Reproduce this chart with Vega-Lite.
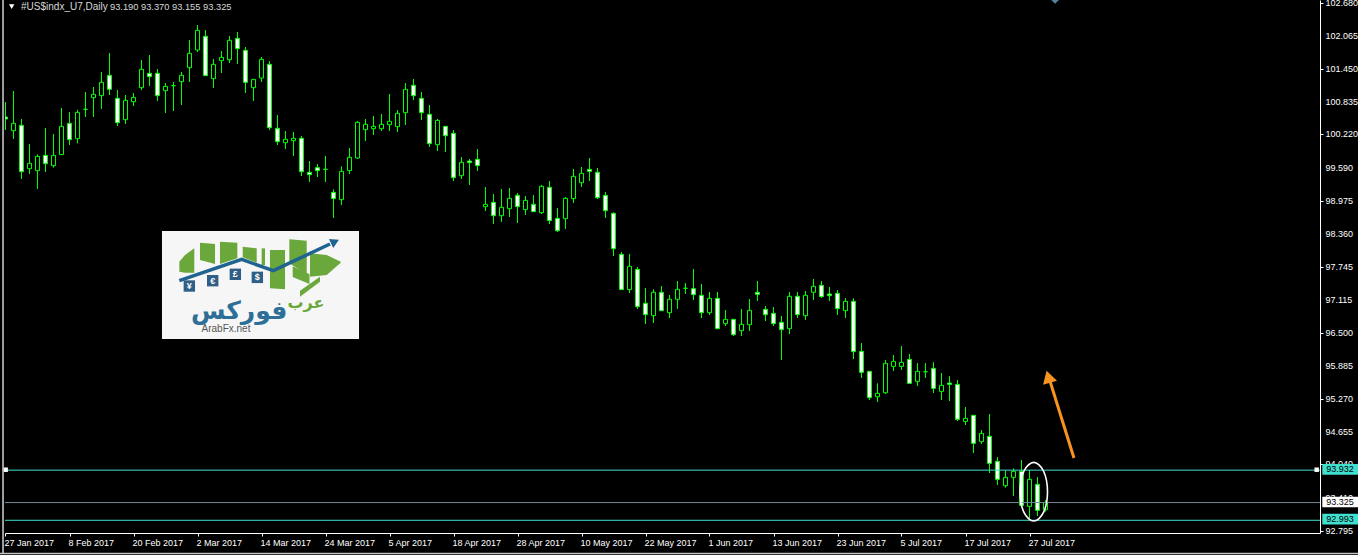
{"$schema":"https://vega.github.io/schema/vega-lite/v6.json","width":1315,"height":533,"autosize":"none","padding":{"left":5,"top":0,"right":38,"bottom":22},"background":"#000000","config":{"view":{"stroke":null},"font":"Liberation Sans","axis":{"grid":false,"title":null,"labelOverlap":false,"labelSeparation":0}},
"datasets":{"candles":[
{"bar":0,"open":100.545,"high":100.826,"low":100.302,"close":100.508},
{"bar":1,"open":100.289,"high":101.032,"low":100.133,"close":100.426},
{"bar":2,"open":100.389,"high":100.508,"low":99.384,"close":99.521},
{"bar":3,"open":99.577,"high":100.039,"low":99.478,"close":99.677},
{"bar":4,"open":99.54,"high":99.846,"low":99.197,"close":99.808},
{"bar":5,"open":99.827,"high":100.339,"low":99.515,"close":99.671},
{"bar":6,"open":99.634,"high":100.227,"low":99.596,"close":99.827},
{"bar":7,"open":99.84,"high":100.714,"low":99.835,"close":100.37},
{"bar":8,"open":100.426,"high":100.639,"low":100.021,"close":100.121},
{"bar":9,"open":100.139,"high":100.676,"low":100.052,"close":100.632},
{"bar":10,"open":100.689,"high":101.013,"low":100.545,"close":100.689},
{"bar":11,"open":100.907,"high":101.107,"low":100.545,"close":100.97},
{"bar":12,"open":100.945,"high":101.388,"low":100.695,"close":101.194},
{"bar":13,"open":101.325,"high":101.744,"low":100.957,"close":101.063},
{"bar":14,"open":100.895,"high":101.051,"low":100.376,"close":100.439},
{"bar":15,"open":100.495,"high":100.957,"low":100.414,"close":100.857},
{"bar":16,"open":100.832,"high":100.994,"low":100.751,"close":100.913},
{"bar":17,"open":101.094,"high":101.612,"low":101.051,"close":101.438},
{"bar":18,"open":101.363,"high":101.706,"low":101.126,"close":101.3},
{"bar":19,"open":101.363,"high":101.444,"low":100.845,"close":100.945},
{"bar":20,"open":101.038,"high":101.182,"low":100.62,"close":101.119},
{"bar":21,"open":101.132,"high":101.2,"low":100.657,"close":101.132},
{"bar":22,"open":101.207,"high":101.388,"low":100.77,"close":101.325},
{"bar":23,"open":101.469,"high":101.987,"low":101.2,"close":101.737},
{"bar":24,"open":101.8,"high":102.268,"low":101.762,"close":102.168},
{"bar":25,"open":102.056,"high":102.174,"low":101.313,"close":101.319},
{"bar":26,"open":101.263,"high":101.631,"low":101.088,"close":101.531},
{"bar":27,"open":101.6,"high":101.781,"low":101.369,"close":101.662},
{"bar":28,"open":101.619,"high":102.062,"low":101.556,"close":101.981},
{"bar":29,"open":102.018,"high":102.137,"low":101.538,"close":101.825},
{"bar":30,"open":101.793,"high":101.856,"low":100.994,"close":101.194},
{"bar":31,"open":101.094,"high":101.25,"low":100.845,"close":101.25},
{"bar":32,"open":101.275,"high":101.669,"low":101.2,"close":101.625},
{"bar":33,"open":101.531,"high":101.594,"low":100.302,"close":100.345},
{"bar":34,"open":100.333,"high":100.583,"low":100.021,"close":100.083},
{"bar":35,"open":100.064,"high":100.283,"low":99.946,"close":100.127},
{"bar":36,"open":100.102,"high":100.264,"low":99.815,"close":100.146},
{"bar":37,"open":100.146,"high":100.189,"low":99.44,"close":99.521},
{"bar":38,"open":99.509,"high":99.721,"low":99.328,"close":99.465},
{"bar":39,"open":99.596,"high":99.665,"low":99.421,"close":99.54},
{"bar":40,"open":99.565,"high":99.815,"low":99.328,"close":99.565},
{"bar":41,"open":99.134,"high":99.19,"low":98.654,"close":99.016},
{"bar":42,"open":98.997,"high":99.621,"low":98.897,"close":99.527},
{"bar":43,"open":99.54,"high":99.964,"low":99.477,"close":99.79},
{"bar":44,"open":99.777,"high":100.47,"low":99.758,"close":100.445},
{"bar":45,"open":100.308,"high":100.507,"low":100.095,"close":100.408},
{"bar":46,"open":100.326,"high":100.564,"low":100.208,"close":100.37},
{"bar":47,"open":100.326,"high":100.601,"low":100.283,"close":100.408},
{"bar":48,"open":100.401,"high":100.976,"low":100.283,"close":100.464},
{"bar":49,"open":100.364,"high":100.676,"low":100.264,"close":100.614},
{"bar":50,"open":100.626,"high":101.182,"low":100.395,"close":101.063},
{"bar":51,"open":101.138,"high":101.256,"low":100.863,"close":100.944},
{"bar":52,"open":100.894,"high":101.013,"low":100.489,"close":100.626},
{"bar":53,"open":100.595,"high":100.77,"low":99.983,"close":100.046},
{"bar":54,"open":100.027,"high":100.507,"low":99.908,"close":100.482},
{"bar":55,"open":100.37,"high":100.37,"low":99.889,"close":100.195},
{"bar":56,"open":100.239,"high":100.301,"low":99.346,"close":99.409},
{"bar":57,"open":99.446,"high":99.796,"low":99.384,"close":99.696},
{"bar":58,"open":99.721,"high":99.758,"low":99.272,"close":99.69},
{"bar":59,"open":99.752,"high":99.946,"low":99.534,"close":99.634},
{"bar":60,"open":98.866,"high":99.234,"low":98.785,"close":98.909},
{"bar":61,"open":98.947,"high":99.103,"low":98.541,"close":98.697},
{"bar":62,"open":98.697,"high":99.197,"low":98.579,"close":98.853},
{"bar":63,"open":98.828,"high":99.215,"low":98.672,"close":99.022},
{"bar":64,"open":99.078,"high":99.122,"low":98.56,"close":98.866},
{"bar":65,"open":98.81,"high":99.066,"low":98.71,"close":98.984},
{"bar":66,"open":98.909,"high":99.084,"low":98.772,"close":98.772},
{"bar":67,"open":98.753,"high":99.272,"low":98.728,"close":99.247},
{"bar":68,"open":99.228,"high":99.346,"low":98.541,"close":98.604},
{"bar":69,"open":98.647,"high":98.841,"low":98.391,"close":98.416},
{"bar":70,"open":98.641,"high":99.047,"low":98.448,"close":99.022},
{"bar":71,"open":99.016,"high":99.571,"low":98.934,"close":99.434},
{"bar":72,"open":99.315,"high":99.609,"low":99.234,"close":99.49},
{"bar":73,"open":99.565,"high":99.777,"low":99.346,"close":99.527},
{"bar":74,"open":99.509,"high":99.59,"low":99.009,"close":99.034},
{"bar":75,"open":99.078,"high":99.14,"low":98.654,"close":98.791},
{"bar":76,"open":98.741,"high":98.76,"low":97.942,"close":98.079},
{"bar":77,"open":97.973,"high":98.017,"low":97.305,"close":97.312},
{"bar":78,"open":97.312,"high":97.98,"low":97.249,"close":97.749},
{"bar":79,"open":97.692,"high":97.736,"low":96.95,"close":96.993},
{"bar":80,"open":97.056,"high":97.343,"low":96.669,"close":96.844},
{"bar":81,"open":96.825,"high":97.318,"low":96.687,"close":97.262},
{"bar":82,"open":97.262,"high":97.38,"low":96.918,"close":96.918},
{"bar":83,"open":96.881,"high":97.212,"low":96.781,"close":97.131},
{"bar":84,"open":97.131,"high":97.474,"low":96.95,"close":97.318},
{"bar":85,"open":97.337,"high":97.437,"low":97.231,"close":97.337},
{"bar":86,"open":97.33,"high":97.699,"low":97.118,"close":97.218},
{"bar":87,"open":97.206,"high":97.418,"low":96.781,"close":96.881},
{"bar":88,"open":96.881,"high":97.268,"low":96.837,"close":97.149},
{"bar":89,"open":97.149,"high":97.268,"low":96.575,"close":96.581},
{"bar":90,"open":96.675,"high":96.931,"low":96.631,"close":96.756},
{"bar":91,"open":96.756,"high":96.76,"low":96.444,"close":96.469},
{"bar":92,"open":96.544,"high":96.95,"low":96.444,"close":96.663},
{"bar":93,"open":96.656,"high":97.137,"low":96.538,"close":96.925},
{"bar":94,"open":97.262,"high":97.474,"low":97.099,"close":97.224},
{"bar":95,"open":96.943,"high":97.006,"low":96.725,"close":96.844},
{"bar":96,"open":96.868,"high":96.987,"low":96.631,"close":96.675},
{"bar":97,"open":96.7,"high":96.819,"low":95.995,"close":96.563},
{"bar":98,"open":96.581,"high":97.268,"low":96.481,"close":97.187},
{"bar":99,"open":97.187,"high":97.268,"low":96.781,"close":96.844},
{"bar":100,"open":96.825,"high":97.287,"low":96.744,"close":97.206},
{"bar":101,"open":97.262,"high":97.511,"low":97.118,"close":97.374},
{"bar":102,"open":97.393,"high":97.474,"low":97.156,"close":97.181},
{"bar":103,"open":97.231,"high":97.362,"low":97.099,"close":97.199},
{"bar":104,"open":97.243,"high":97.305,"low":96.837,"close":96.956},
{"bar":105,"open":96.918,"high":97.156,"low":96.781,"close":97.093},
{"bar":106,"open":97.093,"high":97.149,"low":96.013,"close":96.151},
{"bar":107,"open":96.156,"high":96.312,"low":95.657,"close":95.763},
{"bar":108,"open":95.782,"high":95.789,"low":95.245,"close":95.289},
{"bar":109,"open":95.307,"high":95.557,"low":95.207,"close":95.37},
{"bar":110,"open":95.382,"high":95.994,"low":95.357,"close":95.932},
{"bar":111,"open":95.875,"high":96.088,"low":95.788,"close":95.969},
{"bar":112,"open":95.875,"high":96.256,"low":95.807,"close":95.95},
{"bar":113,"open":96.006,"high":96.106,"low":95.551,"close":95.557},
{"bar":114,"open":95.594,"high":95.938,"low":95.507,"close":95.782},
{"bar":115,"open":95.775,"high":95.938,"low":95.657,"close":95.775},
{"bar":116,"open":95.838,"high":95.956,"low":95.376,"close":95.463},
{"bar":117,"open":95.407,"high":95.751,"low":95.245,"close":95.52},
{"bar":118,"open":95.563,"high":95.694,"low":95.226,"close":95.538},
{"bar":119,"open":95.538,"high":95.619,"low":94.852,"close":94.883},
{"bar":120,"open":94.845,"high":95.114,"low":94.777,"close":94.902},
{"bar":121,"open":94.958,"high":94.958,"low":94.252,"close":94.433},
{"bar":122,"open":94.465,"high":94.683,"low":94.421,"close":94.621},
{"bar":123,"open":94.565,"high":94.983,"low":93.878,"close":94.059},
{"bar":124,"open":94.096,"high":94.178,"low":93.653,"close":93.759},
{"bar":125,"open":93.641,"high":93.934,"low":93.603,"close":93.797},
{"bar":126,"open":93.797,"high":93.965,"low":93.447,"close":93.909},
{"bar":127,"open":93.909,"high":94.121,"low":93.247,"close":93.272},
{"bar":128,"open":93.254,"high":93.934,"low":93.029,"close":93.759},
{"bar":129,"open":93.666,"high":93.803,"low":93.073,"close":93.179},
{"bar":130,"open":93.19,"high":93.37,"low":93.155,"close":93.325}
],
"priceLabels":[{"v":92.795},{"v":93.41},{"v":94.04},{"v":94.655},{"v":95.27},{"v":95.885},{"v":96.5},{"v":97.115},{"v":97.745},{"v":98.36},{"v":98.975},{"v":99.59},{"v":100.22},{"v":100.835},{"v":101.45},{"v":102.065},{"v":102.68}],
"logoGreen":[
{"block":"a","x":21.73,"top":97.836,"bot":97.648},{"block":"a","x":22.44,"top":97.961,"bot":97.63},{"block":"a","x":23.6,"top":98.085,"bot":97.63},
{"block":"b","x":24.31,"top":98.192,"bot":97.867},{"block":"b","x":26.19,"top":98.167,"bot":97.792},
{"block":"c","x":26.81,"top":98.21,"bot":97.792},{"block":"c","x":28.98,"top":98.192,"bot":97.898},
{"block":"d","x":29.65,"top":98.117,"bot":97.917},{"block":"d","x":31.4,"top":98.085,"bot":97.817},
{"block":"e","x":32.02,"top":98.085,"bot":97.773},{"block":"e","x":32.44,"top":98.085,"bot":97.773},
{"block":"f","x":33.06,"top":98.054,"bot":97.336},{"block":"f","x":34.94,"top":98.054,"bot":97.318},
{"block":"g","x":35.48,"top":98.254,"bot":97.805},{"block":"g","x":37.65,"top":98.229,"bot":97.6},
{"block":"h","x":38.06,"top":97.992,"bot":97.555},{"block":"h","x":40.15,"top":97.961,"bot":97.586},{"block":"h","x":41.9,"top":97.836,"bot":97.817},
{"block":"j","x":35.9,"top":97.75,"bot":97.55},{"block":"j","x":38.0,"top":97.6,"bot":97.42},
{"block":"i","x":36.81,"top":97.293,"bot":97.18},{"block":"i","x":39.31,"top":97.555,"bot":97.461}
],
"logoArrow":[{"n":1,"x":21.73,"p":97.48},{"n":2,"x":29.52,"p":97.879},{"n":3,"x":33.48,"p":97.667},{"n":4,"x":40.56,"p":98.167}],
"logoSquares":[{"x":22.98,"p":97.38,"t":"¥"},{"x":25.9,"p":97.48,"t":"€"},{"x":28.73,"p":97.599,"t":"£"},{"x":31.48,"p":97.542,"t":"$"}],
"ellipse":[{"n":1,"x":128.53,"p":94.077},{"n":2,"x":129.75,"p":93.916},{"n":3,"x":130.25,"p":93.528},{"n":4,"x":129.75,"p":93.14},{"n":5,"x":128.53,"p":92.979},{"n":6,"x":127.31,"p":93.14},{"n":7,"x":126.81,"p":93.528},{"n":8,"x":127.31,"p":93.916}],
"levels":[{"kind":"line","value":93.932,"top":94.045,"bot":93.845,"label":"93.932"},{"kind":"price","value":93.325,"top":93.435,"bot":93.235,"label":"93.325"},{"kind":"line","value":92.993,"top":93.115,"bot":92.915,"label":"92.993"}],
"frame":[{"x":-0.31,"x2":-0.31,"p":102.736,"p2":92.38,"k":"left"},{"x":-0.7,"x2":169.2,"p":92.37,"p2":92.37,"k":"bottom"}]},
"layer":[
{"data":{"name":"candles"},"mark":{"type":"rule","color":"#00ff00","strokeWidth":1,"clip":true},"encoding":{
"x":{"field":"bar","type":"quantitative","scale":{"domain":[-0.0625,164.3125],"nice":false,"zero":false,"padding":0},"axis":{"values":[0,8,16,24,32,40,48,56,64,72,80,88,96,104,112,120,128],"labelExpr":"['27 Jan 2017','8 Feb 2017','20 Feb 2017','2 Mar 2017','14 Mar 2017','24 Mar 2017','5 Apr 2017','18 Apr 2017','28 Apr 2017','10 May 2017','22 May 2017','1 Jun 2017','13 Jun 2017','23 Jun 2017','5 Jul 2017','17 Jul 2017','27 Jul 2017'][datum.value/8]","labelAlign":"left","labelBaseline":"top","labelFlush":false,"labelOverlap":false,"labelPadding":2,"labelOffset":-1.5,"labelColor":"#ffffff","labelFontSize":9,"domainColor":"#ffffff","tickColor":"#ffffff","tickSize":3,"title":null}},
"y":{"field":"low","type":"quantitative","scale":{"domain":[92.755,102.736],"nice":false,"zero":false,"padding":0},"axis":{"orient":"right","values":[92.795,93.41,94.04,94.655,95.27,95.885,96.5,97.115,97.745,98.36,98.975,99.59,100.22,100.835,101.45,102.065,102.68],"labels":false,"domainColor":"#ffffff","tickColor":"#ffffff","tickSize":3,"title":null}},
"y2":{"field":"high"}}},
{"data":{"name":"candles"},"mark":{"type":"bar","size":4,"stroke":"#00ff00","strokeWidth":1,"clip":true},"encoding":{
"x":{"field":"bar","type":"quantitative"},
"y":{"field":"open","type":"quantitative"},"y2":{"field":"close"},
"fill":{"condition":{"test":"datum.close<datum.open","value":"#ffffff"},"value":"#000000"}}},
{"data":{"name":"levels"},"mark":{"type":"rule","strokeWidth":1},"encoding":{
"y":{"field":"value","type":"quantitative"},
"color":{"field":"kind","type":"nominal","legend":null,"scale":{"domain":["line","price"],"range":["#40e0d0","#778899"]}}}},
{"data":{"values":[{"x":0.02,"p":93.94},{"x":163.9,"p":93.94}]},"mark":{"type":"point","shape":"square","filled":true,"size":20,"color":"#ffffff","opacity":1},"encoding":{"x":{"field":"x","type":"quantitative"},"y":{"field":"p","type":"quantitative"}}},
{"data":{"name":"priceLabels"},"mark":{"type":"text","align":"left","baseline":"middle","fontSize":9,"color":"#ffffff"},"encoding":{
"x":{"datum":165.0,"type":"quantitative"},
"y":{"field":"v","type":"quantitative"},"text":{"field":"v","type":"quantitative","format":".3f"}}},
{"data":{"name":"levels"},"mark":{"type":"rect"},"encoding":{
"x":{"datum":164.6,"type":"quantitative"},"x2":{"datum":169.2},
"y":{"field":"top","type":"quantitative"},"y2":{"field":"bot"},
"fill":{"field":"kind","type":"nominal","legend":null,"scale":{"domain":["line","price"],"range":["#40e0d0","#ffffff"]}}}},
{"data":{"name":"levels"},"mark":{"type":"text","align":"left","baseline":"middle","fontSize":9,"color":"#000000","dy":-1},"encoding":{
"x":{"datum":165.1,"type":"quantitative"},
"y":{"field":"value","type":"quantitative"},"text":{"field":"label"}}},
{"data":{"values":[{"a":19.56,"b":44.19,"t":98.41,"u":96.388}]},"mark":{"type":"rect","fill":"#f6f6f6"},"encoding":{"x":{"field":"a","type":"quantitative"},"x2":{"field":"b"},"y":{"field":"t","type":"quantitative"},"y2":{"field":"u"}}},
{"data":{"name":"logoGreen"},"mark":{"type":"area","color":"#6aa83c","interpolate":"linear"},"encoding":{"x":{"field":"x","type":"quantitative"},"y":{"field":"top","type":"quantitative"},"y2":{"field":"bot"},"detail":{"field":"block"}}},
{"data":{"name":"logoArrow"},"mark":{"type":"line","color":"#1f6390","strokeWidth":3.5},"encoding":{"x":{"field":"x","type":"quantitative"},"y":{"field":"p","type":"quantitative"},"order":{"field":"n"}}},
{"data":{"values":[{"x":41.19,"p":98.21}]},"mark":{"type":"point","shape":"triangle-up","filled":true,"size":100,"angle":65,"color":"#1f6390","opacity":1},"encoding":{"x":{"field":"x","type":"quantitative"},"y":{"field":"p","type":"quantitative"}}},
{"data":{"name":"logoSquares"},"mark":{"type":"point","shape":"square","filled":true,"size":130,"color":"#2f5f86","opacity":1},"encoding":{"x":{"field":"x","type":"quantitative"},"y":{"field":"p","type":"quantitative"}}},
{"data":{"name":"logoSquares"},"mark":{"type":"text","fontSize":9,"fontWeight":"bold","color":"#ffffff"},"encoding":{"x":{"field":"x","type":"quantitative"},"y":{"field":"p","type":"quantitative"},"text":{"field":"t"}}},
{"data":{"values":[{"x":37.56,"p":97.06,"t":"عرب"}]},"mark":{"type":"text","font":"DejaVu Sans","fontWeight":"bold","fontSize":16,"color":"#6aa83c"},"encoding":{"x":{"field":"x","type":"quantitative"},"y":{"field":"p","type":"quantitative"},"text":{"field":"t"}}},
{"data":{"values":[{"x":29.2,"p":96.76,"t":"فوركس"}]},"mark":{"type":"text","font":"DejaVu Sans","fontWeight":"bold","fontSize":25,"baseline":"alphabetic","color":"#2d6f96"},"encoding":{"x":{"field":"x","type":"quantitative"},"y":{"field":"p","type":"quantitative"},"text":{"field":"t"}}},
{"data":{"values":[{"x":27.56,"p":96.575,"t":"ArabFx.net"}]},"mark":{"type":"text","fontSize":10,"color":"#555555"},"encoding":{"x":{"field":"x","type":"quantitative"},"y":{"field":"p","type":"quantitative"},"text":{"field":"t"}}},
{"data":{"name":"ellipse"},"mark":{"type":"line","color":"#ffffff","strokeWidth":1.6,"interpolate":"cardinal-closed"},"encoding":{"x":{"field":"x","type":"quantitative"},"y":{"field":"p","type":"quantitative"},"order":{"field":"n"}}},
{"data":{"values":[{"n":1,"x":133.56,"p":94.159},{"n":2,"x":130.44,"p":95.657}]},"mark":{"type":"line","color":"#f7931e","strokeWidth":3},"encoding":{"x":{"field":"x","type":"quantitative"},"y":{"field":"p","type":"quantitative"},"order":{"field":"n"}}},
{"data":{"values":[{"x":130.35,"p":95.682}]},"mark":{"type":"point","shape":"triangle-up","filled":true,"size":210,"angle":344,"color":"#f7931e","opacity":1},"encoding":{"x":{"field":"x","type":"quantitative"},"y":{"field":"p","type":"quantitative"}}},
{"data":{"values":[{"x":1.94,"p":102.614,"t":"#US$indx_U7,Daily"}]},"mark":{"type":"text","align":"left","baseline":"middle","fontSize":10,"color":"#d8d8d8"},"encoding":{"x":{"field":"x","type":"quantitative"},"y":{"field":"p","type":"quantitative"},"text":{"field":"t"}}},
{"data":{"values":[{"x":13.06,"p":102.614,"t":"93.190 93.370 93.155 93.325"}]},"mark":{"type":"text","align":"left","baseline":"middle","fontSize":9.3,"color":"#d8d8d8"},"encoding":{"x":{"field":"x","type":"quantitative"},"y":{"field":"p","type":"quantitative"},"text":{"field":"t"}}},
{"data":{"values":[{"x":0.77,"p":102.61}]},"mark":{"type":"point","shape":"triangle-down","filled":true,"size":30,"color":"#ffffff","opacity":1},"encoding":{"x":{"field":"x","type":"quantitative"},"y":{"field":"p","type":"quantitative"}}},
{"data":{"values":[{"x":131.2,"p":102.736}]},"mark":{"type":"point","shape":"diamond","filled":true,"size":60,"color":"#5a7f9a","opacity":1},"encoding":{"x":{"field":"x","type":"quantitative"},"y":{"field":"p","type":"quantitative"}}},
{"data":{"name":"frame"},"mark":{"type":"rule","color":"#c4c4c4","strokeWidth":1.6},"encoding":{"x":{"field":"x","type":"quantitative"},"x2":{"field":"x2"},"y":{"field":"p","type":"quantitative"},"y2":{"field":"p2"},"detail":{"field":"k"}}}
]}
